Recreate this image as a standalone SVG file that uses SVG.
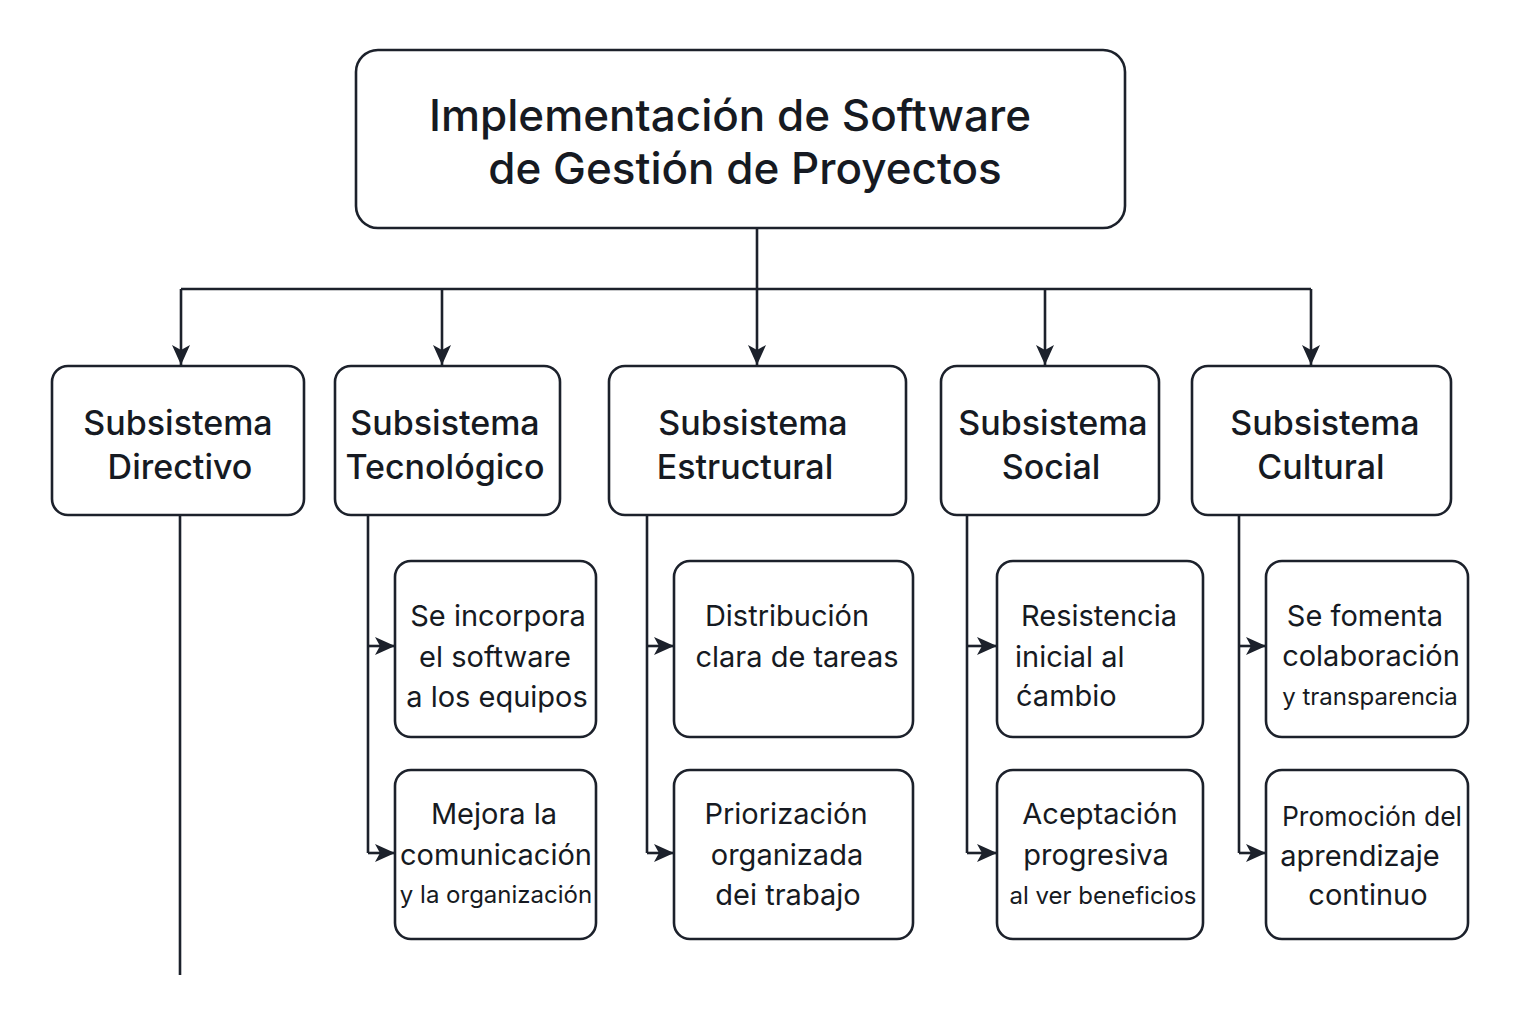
<svg xmlns="http://www.w3.org/2000/svg" width="1536" height="1024" viewBox="0 0 1536 1024">
<style>
.box{fill:#fff;stroke:#1c212b;stroke-width:2.6}
.con{fill:none;stroke:#1c212b;stroke-width:2.6}
.t{font-family:Inter,"Liberation Sans",sans-serif;fill:#161a22;text-anchor:middle}
.title{font-size:44px;font-weight:500}
.sub{font-size:34px;font-weight:500}
.c{font-size:29px;font-weight:400}
.s{font-size:24px;font-weight:400}
</style>
<defs>
<marker id="ah" viewBox="0 0 20 18" refX="20" refY="9" markerWidth="20" markerHeight="18" markerUnits="userSpaceOnUse" orient="auto" overflow="visible">
<path d="M0,0 L20,9 L0,18 L5,9 Z" fill="#1c212b"/>
</marker>
</defs>
<rect width="1536" height="1024" fill="#fff"/>
<g id="connectors">
<path class="con" d="M757,228 V289"/>
<path class="con" d="M181,289 H1311"/>
<path class="con" d="M181,289 V365" marker-end="url(#ah)"/>
<path class="con" d="M442,289 V365" marker-end="url(#ah)"/>
<path class="con" d="M757,289 V365" marker-end="url(#ah)"/>
<path class="con" d="M1045,289 V365" marker-end="url(#ah)"/>
<path class="con" d="M1311,289 V365" marker-end="url(#ah)"/>
<path class="con" d="M180,515 V975"/>
<path class="con" d="M368,515 V853"/>
<path class="con" d="M368,646 H395" marker-end="url(#ah)"/>
<path class="con" d="M368,853 H395" marker-end="url(#ah)"/>
<path class="con" d="M647,515 V853"/>
<path class="con" d="M647,646 H674" marker-end="url(#ah)"/>
<path class="con" d="M647,853 H674" marker-end="url(#ah)"/>
<path class="con" d="M967,515 V853"/>
<path class="con" d="M967,646 H997" marker-end="url(#ah)"/>
<path class="con" d="M967,853 H997" marker-end="url(#ah)"/>
<path class="con" d="M1239,515 V853"/>
<path class="con" d="M1239,646 H1266" marker-end="url(#ah)"/>
<path class="con" d="M1239,853 H1266" marker-end="url(#ah)"/>
</g>
<g id="root">
<rect class="box" x="356" y="50" width="769" height="178" rx="22"/>
<text class="t title" x="730" y="131">Implementación de Software</text>
<text class="t title" x="745" y="184">de Gestión de Proyectos</text>
</g>
<g id="directivo">
<rect class="box" x="52" y="366" width="252" height="149" rx="16"/>
<text class="t sub" x="178" y="435">Subsistema</text>
<text class="t sub" x="180" y="479">Directivo</text>
</g>
<g id="tecnologico">
<rect class="box" x="335" y="366" width="225" height="149" rx="16"/>
<text class="t sub" x="445" y="435">Subsistema</text>
<text class="t sub" x="445" y="479">Tecnológico</text>
</g>
<g id="estructural">
<rect class="box" x="609" y="366" width="297" height="149" rx="16"/>
<text class="t sub" x="753" y="435">Subsistema</text>
<text class="t sub" x="745" y="479">Estructural</text>
</g>
<g id="social">
<rect class="box" x="941" y="366" width="218" height="149" rx="16"/>
<text class="t sub" x="1053" y="435">Subsistema</text>
<text class="t sub" x="1051" y="479">Social</text>
</g>
<g id="cultural">
<rect class="box" x="1192" y="366" width="259" height="149" rx="16"/>
<text class="t sub" x="1325" y="435">Subsistema</text>
<text class="t sub" x="1321" y="479">Cultural</text>
</g>
<g id="tec1">
<rect class="box" x="395" y="561" width="201" height="176" rx="16"/>
<text class="t c" x="498" y="626">Se incorpora</text>
<text class="t c" x="495" y="667">el software</text>
<text class="t c" x="497" y="707">a los equipos</text>
</g>
<g id="tec2">
<rect class="box" x="395" y="770" width="201" height="169" rx="16"/>
<text class="t c" x="494" y="824">Mejora la</text>
<text class="t c" x="496" y="865">comunicación</text>
<text class="t s" x="496" y="903">y la organización</text>
</g>
<g id="est1">
<rect class="box" x="674" y="561" width="239" height="176" rx="16"/>
<text class="t c" x="787" y="626">Distribución</text>
<text class="t c" x="797" y="667">clara de tareas</text>
</g>
<g id="est2">
<rect class="box" x="674" y="770" width="239" height="169" rx="16"/>
<text class="t c" x="786" y="824">Priorización</text>
<text class="t c" x="787" y="865">organizada</text>
<text class="t c" x="788" y="905">dei trabajo</text>
</g>
<g id="soc1">
<rect class="box" x="997" y="561" width="206" height="176" rx="16"/>
<text class="t c" x="1099" y="626">Resistencia</text>
<text class="t c" x="1015" y="667" style="text-anchor:start">inicial al</text>
<text class="t c" x="1016" y="706" style="text-anchor:start">ćambio</text>
</g>
<g id="soc2">
<rect class="box" x="997" y="770" width="206" height="169" rx="16"/>
<text class="t c" x="1100" y="824">Aceptación</text>
<text class="t c" x="1096" y="865">progresiva</text>
<text class="t s" x="1103" y="904">al ver beneficios</text>
</g>
<g id="cul1">
<rect class="box" x="1266" y="561" width="202" height="176" rx="16"/>
<text class="t c" x="1365" y="626">Se fomenta</text>
<text class="t c" x="1371" y="666">colaboración</text>
<text class="t s" x="1370" y="705">y transparencia</text>
</g>
<g id="cul2">
<rect class="box" x="1266" y="770" width="202" height="169" rx="16"/>
<text class="t c" x="1372" y="826" style="font-size:26.5px">Promoción del</text>
<text class="t c" x="1360" y="866">aprendizaje</text>
<text class="t c" x="1368" y="905">continuo</text>
</g>
</svg>
